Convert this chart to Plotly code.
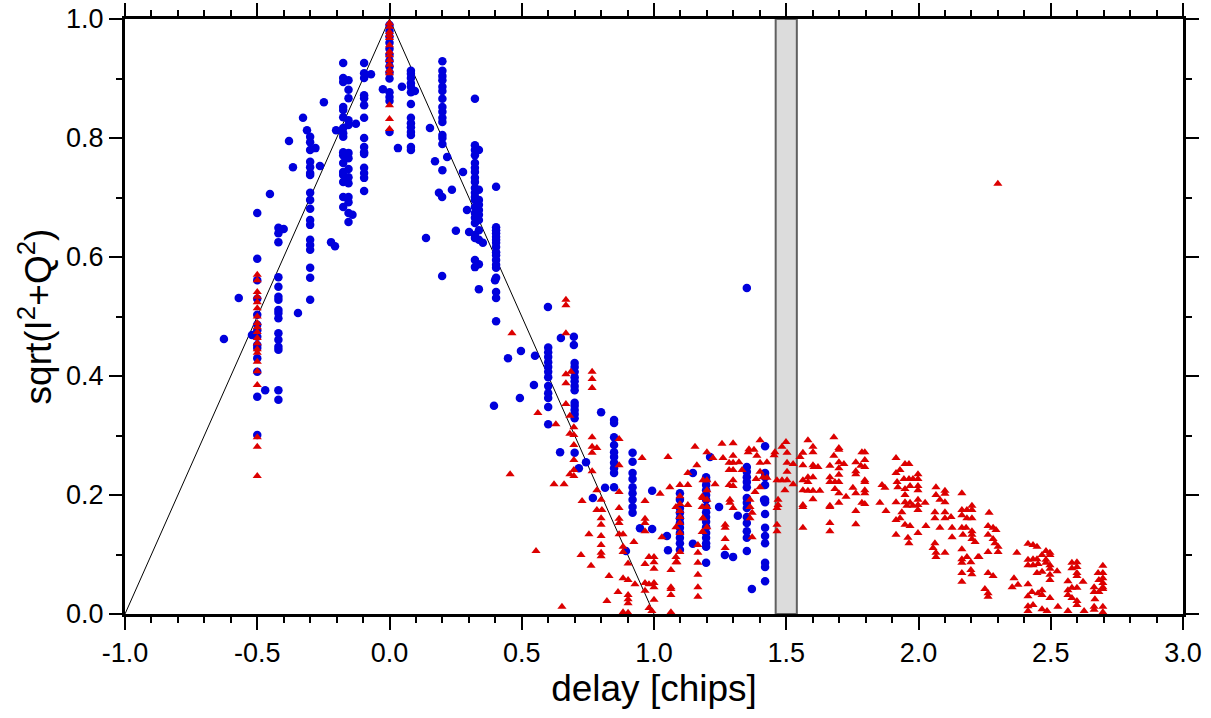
import plotly.graph_objects as go

# ---------------- data (delay [chips], sqrt(I^2+Q^2)) ----------------
# blue circles: columns of points at a common delay
blue_columns = {
    -0.50: [0.674, 0.597, 0.561, 0.530, 0.503, 0.486, 0.477, 0.466, 0.452, 0.447, 0.430, 0.407, 0.365, 0.301],
    -0.42: [0.649, 0.640, 0.625, 0.566, 0.550, 0.533, 0.528, 0.511, 0.506, 0.497, 0.472, 0.461, 0.449, 0.444, 0.376, 0.360],
    -0.30: [0.802, 0.793, 0.780, 0.760, 0.751, 0.741, 0.738, 0.708, 0.696, 0.681, 0.662, 0.654, 0.629, 0.620, 0.612, 0.582, 0.565, 0.528],
    -0.175: [0.926, 0.901, 0.894, 0.852, 0.847, 0.835, 0.817, 0.808, 0.802, 0.776, 0.771, 0.758, 0.743, 0.738, 0.726, 0.701, 0.684],
    -0.155: [0.897, 0.881, 0.867, 0.830, 0.822, 0.775, 0.766, 0.748, 0.734, 0.724, 0.701, 0.692, 0.674, 0.659],
    -0.096: [0.926, 0.909, 0.901, 0.872, 0.867, 0.855, 0.834, 0.800, 0.785, 0.776, 0.773, 0.750, 0.741, 0.733, 0.711],
    0.00: [0.990, 0.980, 0.970, 0.960, 0.950, 0.940, 0.930, 0.920, 0.910, 0.900, 0.877, 0.869, 0.862, 0.810],
    0.081: [0.913, 0.908, 0.901, 0.892, 0.886, 0.877, 0.857, 0.834, 0.825, 0.818, 0.810, 0.805, 0.785, 0.780],
    0.20: [0.929, 0.913, 0.904, 0.897, 0.886, 0.879, 0.866, 0.852, 0.844, 0.834, 0.827, 0.805, 0.800, 0.790, 0.746],
    0.323: [0.788, 0.780, 0.771, 0.758, 0.750, 0.743, 0.733, 0.726, 0.716, 0.708, 0.701, 0.696, 0.684, 0.674, 0.666, 0.657, 0.637, 0.632, 0.595, 0.583],
    0.338: [0.780, 0.713, 0.696, 0.688, 0.679, 0.671, 0.662, 0.645, 0.629, 0.588, 0.546],
    0.403: [0.718, 0.650, 0.645, 0.640, 0.634, 0.629, 0.624, 0.617, 0.608, 0.603, 0.595, 0.587, 0.582, 0.565, 0.541, 0.531, 0.492],
    0.60: [0.448, 0.440, 0.432, 0.423, 0.415, 0.407, 0.398, 0.383, 0.371, 0.363, 0.348, 0.319],
    0.70: [0.422, 0.415, 0.407, 0.398, 0.391, 0.383, 0.376, 0.355, 0.350, 0.343, 0.336, 0.329, 0.271],
    0.849: [0.326, 0.321, 0.297, 0.284, 0.272, 0.264, 0.254, 0.245, 0.237, 0.213],
    0.919: [0.271, 0.256, 0.237, 0.227, 0.213, 0.203, 0.192, 0.180, 0.170],
    1.098: [0.203, 0.192, 0.178, 0.170, 0.161, 0.153, 0.145, 0.136, 0.128, 0.119, 0.108],
    1.197: [0.230, 0.225, 0.217, 0.208, 0.200, 0.192, 0.180, 0.171, 0.163, 0.155, 0.146, 0.136, 0.128, 0.119, 0.113, 0.086],
    1.351: [0.548, 0.247, 0.239, 0.230, 0.222, 0.213, 0.195, 0.187, 0.178, 0.163, 0.153, 0.139, 0.128, 0.106],
    1.42: [0.282, 0.237, 0.230, 0.217, 0.192, 0.188, 0.168, 0.145, 0.131, 0.119, 0.086, 0.079, 0.055],
}
blue_scatter = [
    (-0.626, 0.462), (-0.57, 0.531), (-0.52, 0.469), (-0.47, 0.376), (-0.40, 0.647),
    (-0.452, 0.706), (-0.38, 0.795), (-0.365, 0.751), (-0.346, 0.506), (-0.327, 0.834),
    (-0.312, 0.813), (-0.248, 0.860), (-0.263, 0.753), (-0.221, 0.625), (-0.206, 0.618),
    (-0.202, 0.813), (-0.127, 0.824), (-0.28, 0.783), (-0.14, 0.671), (-0.07, 0.907),
    (-0.025, 0.882), (0.032, 0.783), (0.047, 0.886), (0.096, 0.879),
    (0.138, 0.632), (0.153, 0.817), (0.172, 0.761), (0.187, 0.708), (0.199, 0.701),
    (0.218, 0.768), (0.236, 0.713), (0.278, 0.743), (0.293, 0.679), (0.301, 0.642),
    (0.251, 0.644), (0.199, 0.568), (0.323, 0.866), (0.353, 0.624), (0.399, 0.561),
    (0.599, 0.516), (0.648, 0.464), (0.697, 0.466), (0.697, 0.452), (0.497, 0.442),
    (0.448, 0.430), (0.55, 0.434), (0.546, 0.385), (0.493, 0.363), (0.395, 0.350),
    (0.645, 0.272), (0.716, 0.245), (0.743, 0.255), (0.80, 0.339), (0.815, 0.212),
    (0.769, 0.195), (0.947, 0.144), (0.993, 0.143), (0.993, 0.207), (1.049, 0.131),
    (1.053, 0.107), (0.894, 0.106), (1.147, 0.237), (1.147, 0.118), (1.212, 0.264),
    (1.246, 0.180), (1.268, 0.099), (1.299, 0.096), (1.317, 0.165), (1.37, 0.042),
    (1.416, 0.192),
]

# red triangles
red_columns = {
    -0.50: [0.570, 0.561, 0.541, 0.533, 0.524, 0.514, 0.500, 0.489, 0.482, 0.474, 0.464, 0.455, 0.445,
            0.439, 0.424, 0.408, 0.385, 0.297, 0.281, 0.232],
    0.00: [0.993, 0.987, 0.978, 0.973, 0.968, 0.956, 0.945, 0.939, 0.931, 0.923, 0.914, 0.909,
           0.855, 0.832, 0.815],
}
red_mid = [
    (0.667, 0.528), (0.667, 0.519), (0.463, 0.472), (0.667, 0.472), (0.456, 0.235), (0.554, 0.106),
    (0.652, 0.012), (0.561, 0.338), (0.629, 0.319), (0.667, 0.403), (0.667, 0.388), (0.667, 0.353),
    (0.686, 0.407), (0.682, 0.333), (0.697, 0.314), (0.697, 0.301), (0.682, 0.303), (0.697, 0.284),
    (0.697, 0.259), (0.697, 0.242), (0.682, 0.235), (0.697, 0.232), (0.622, 0.218), (0.660, 0.218),
    (0.766, 0.407), (0.766, 0.395), (0.766, 0.380), (0.766, 0.297), (0.766, 0.281), (0.784, 0.279),
    (0.766, 0.271), (0.766, 0.240), (0.784, 0.208), (0.800, 0.192), (0.728, 0.190), (0.784, 0.175),
    (0.803, 0.175), (0.800, 0.161), (0.800, 0.150), (0.754, 0.134), (0.800, 0.131), (0.800, 0.116),
    (0.800, 0.103), (0.800, 0.097), (0.724, 0.099), (0.762, 0.081), (0.830, 0.064), (0.822, 0.022),
    (0.864, 0.037), (0.868, 0.294), (0.868, 0.250), (0.868, 0.205), (0.868, 0.178), (0.868, 0.160),
    (0.868, 0.153), (0.883, 0.134), (0.868, 0.134), (0.883, 0.113), (0.883, 0.104), (0.902, 0.085),
    (0.883, 0.060), (0.902, 0.057), (0.902, 0.032), (0.902, 0.025), (0.902, 0.018), (0.883, 0.003),
    (0.902, 0.002), (0.924, 0.121), (0.928, 0.050), (0.955, 0.262), (0.966, 0.190), (0.966, 0.160),
    (0.966, 0.153), (0.966, 0.139), (0.966, 0.084), (0.966, 0.052), (0.966, 0.039), (0.981, 0.096),
    (0.981, 0.050), (1.000, 0.096), (1.000, 0.087), (1.000, 0.076), (1.000, 0.052), (1.000, 0.045),
    (1.000, 0.024), (0.981, 0.010), (0.992, 0.005), (1.023, 0.202), (1.030, 0.129), (1.053, 0.264),
    (1.060, 0.213), (1.083, 0.180), (1.083, 0.146), (1.083, 0.096), (1.083, 0.087), (1.064, 0.074),
    (1.064, 0.045), (1.064, 0.042), (1.064, 0.032), (1.064, 0.003), (1.098, 0.217), (1.098, 0.198),
    (1.098, 0.185), (1.098, 0.173), (1.098, 0.163), (1.098, 0.153), (1.098, 0.136), (1.098, 0.104),
    (1.087, 0.087), (1.128, 0.217), (1.128, 0.183), (1.155, 0.281), (1.162, 0.250), (1.128, 0.237),
    (1.185, 0.225), (1.182, 0.197), (1.182, 0.180), (1.185, 0.161), (1.182, 0.138), (1.166, 0.116),
    (1.166, 0.103), (1.166, 0.086), (1.166, 0.066), (1.166, 0.045), (1.166, 0.029),
]
red_hump = [
    (1.200, 0.272), (1.223, 0.262), (1.257, 0.286), (1.261, 0.262), (1.299, 0.287), (1.299, 0.266),
    (1.284, 0.254), (1.299, 0.254), (1.321, 0.255), (1.284, 0.242), (1.299, 0.242), (1.333, 0.242),
    (1.299, 0.225), (1.284, 0.217), (1.299, 0.215), (1.231, 0.218), (1.200, 0.225), (1.200, 0.208),
    (1.185, 0.195), (1.200, 0.192), (1.200, 0.180), (1.185, 0.161), (1.200, 0.146), (1.185, 0.138),
    (1.269, 0.150), (1.269, 0.145), (1.269, 0.126), (1.269, 0.111), (1.287, 0.192), (1.287, 0.187),
    (1.299, 0.178), (1.359, 0.277), (1.356, 0.272), (1.378, 0.276), (1.401, 0.292), (1.389, 0.266),
    (1.401, 0.254), (1.401, 0.239), (1.412, 0.230), (1.386, 0.227), (1.401, 0.213), (1.382, 0.205),
    (1.363, 0.192), (1.363, 0.180), (1.371, 0.170), (1.363, 0.161), (1.371, 0.129), (1.427, 0.255),
    (1.427, 0.229), (1.457, 0.272), (1.454, 0.267), (1.484, 0.281), (1.499, 0.289), (1.503, 0.271),
    (1.503, 0.254), (1.503, 0.239), (1.484, 0.225), (1.503, 0.225), (1.465, 0.225), (1.495, 0.208),
    (1.469, 0.192), (1.469, 0.183), (1.465, 0.178), (1.465, 0.150), (1.465, 0.139), (1.526, 0.252),
    (1.526, 0.218),
    (1.552, 0.264), (1.563, 0.271), (1.582, 0.292), (1.601, 0.281), (1.601, 0.272), (1.563, 0.250),
    (1.601, 0.250), (1.605, 0.247), (1.620, 0.247), (1.582, 0.230), (1.563, 0.225), (1.601, 0.230),
    (1.582, 0.222), (1.563, 0.208), (1.582, 0.207), (1.601, 0.207), (1.627, 0.207), (1.601, 0.193),
    (1.563, 0.183), (1.563, 0.180), (1.563, 0.145), (1.680, 0.297), (1.699, 0.279), (1.699, 0.276),
    (1.680, 0.266), (1.665, 0.249), (1.699, 0.255), (1.699, 0.245), (1.718, 0.252), (1.699, 0.234),
    (1.665, 0.230), (1.684, 0.222), (1.665, 0.222), (1.699, 0.222), (1.684, 0.210), (1.699, 0.203),
    (1.726, 0.197), (1.665, 0.182), (1.665, 0.180), (1.699, 0.187), (1.665, 0.153), (1.665, 0.139),
    (1.752, 0.212), (1.763, 0.203), (1.763, 0.255), (1.763, 0.240), (1.763, 0.235), (1.786, 0.272),
    (1.797, 0.272), (1.782, 0.249), (1.797, 0.259), (1.797, 0.247), (1.797, 0.225), (1.797, 0.222),
    (1.797, 0.208), (1.797, 0.203), (1.786, 0.187), (1.797, 0.185), (1.763, 0.173), (1.763, 0.151),
]
red_tail = [
    (1.854, 0.187), (1.862, 0.217), (1.873, 0.212), (1.877, 0.173), (1.915, 0.262), (1.915, 0.237),
    (1.930, 0.242), (1.919, 0.222), (1.922, 0.213), (1.915, 0.188), (1.915, 0.158), (1.915, 0.133),
    (1.930, 0.161), (1.937, 0.171), (1.949, 0.252), (1.964, 0.252), (1.945, 0.227), (1.964, 0.227),
    (1.979, 0.227), (1.998, 0.235), (1.998, 0.227), (1.949, 0.210), (1.968, 0.215), (1.998, 0.215),
    (1.998, 0.208), (1.949, 0.200), (1.949, 0.188), (1.968, 0.187), (1.956, 0.182), (1.979, 0.182),
    (1.998, 0.192), (1.998, 0.183), (1.998, 0.175), (1.949, 0.150), (1.968, 0.148), (1.960, 0.128),
    (1.964, 0.119), (1.998, 0.136), (2.025, 0.187), (2.028, 0.148), (2.066, 0.213), (2.066, 0.200),
    (2.081, 0.192), (2.100, 0.207), (2.100, 0.202), (2.100, 0.188), (2.100, 0.171), (2.100, 0.161),
    (2.062, 0.171), (2.062, 0.161), (2.081, 0.145), (2.055, 0.111), (2.062, 0.119), (2.066, 0.103),
    (2.066, 0.096), (2.100, 0.103), (2.123, 0.163), (2.127, 0.145), (2.127, 0.129),
    (2.164, 0.203), (2.164, 0.175), (2.164, 0.166), (2.183, 0.175), (2.202, 0.182), (2.202, 0.175),
    (2.183, 0.161), (2.202, 0.161), (2.180, 0.145), (2.164, 0.145), (2.168, 0.133), (2.202, 0.139),
    (2.202, 0.133), (2.202, 0.126), (2.214, 0.121), (2.225, 0.096), (2.164, 0.109), (2.183, 0.096),
    (2.164, 0.092), (2.164, 0.086), (2.198, 0.087), (2.164, 0.069), (2.198, 0.074), (2.202, 0.067),
    (2.164, 0.054), (2.229, 0.096), (2.267, 0.170), (2.263, 0.148), (2.282, 0.145), (2.293, 0.141),
    (2.263, 0.133), (2.282, 0.126), (2.289, 0.119), (2.301, 0.113), (2.263, 0.104), (2.301, 0.104),
    (2.263, 0.069), (2.282, 0.064), (2.251, 0.042), (2.263, 0.035), (2.263, 0.029), (2.30, 0.723),
    (2.372, 0.103), (2.361, 0.060), (2.376, 0.049), (2.354, 0.045), (2.414, 0.118), (2.433, 0.116),
    (2.448, 0.113), (2.414, 0.091), (2.433, 0.092), (2.448, 0.092), (2.414, 0.082), (2.433, 0.082),
    (2.452, 0.084), (2.467, 0.099), (2.482, 0.106), (2.497, 0.103), (2.497, 0.099), (2.482, 0.091),
    (2.482, 0.086), (2.467, 0.071), (2.448, 0.069), (2.497, 0.082), (2.497, 0.076), (2.497, 0.066),
    (2.497, 0.057), (2.524, 0.072), (2.414, 0.050), (2.414, 0.030), (2.429, 0.037), (2.452, 0.035),
    (2.467, 0.040), (2.467, 0.032), (2.497, 0.027), (2.414, 0.013), (2.433, 0.015), (2.414, 0.005),
    (2.467, 0.008), (2.486, 0.005), (2.527, 0.012), (2.565, 0.055), (2.580, 0.086), (2.599, 0.087),
    (2.580, 0.077), (2.599, 0.079), (2.599, 0.069), (2.599, 0.064), (2.622, 0.054), (2.565, 0.040),
    (2.580, 0.044), (2.599, 0.044), (2.565, 0.032), (2.580, 0.027), (2.599, 0.022), (2.599, 0.015),
    (2.565, 0.005), (2.626, 0.005), (2.664, 0.045), (2.664, 0.037), (2.667, 0.025), (2.664, 0.012),
    (2.664, 0.007), (2.679, 0.069), (2.682, 0.057), (2.682, 0.037), (2.697, 0.081), (2.697, 0.069),
    (2.697, 0.060), (2.697, 0.052), (2.697, 0.045), (2.697, 0.042), (2.697, 0.012), (2.697, 0.003),
]

# ideal correlation triangle and the shaded delay band
ideal_delay = [-1.0, 0.0, 1.0]
ideal_amp = [0.0, 1.0, 0.0]
band_delay = (1.46, 1.54)

x_range = [-1.0, 3.0]
y_range = [0.0, 1.0]
x_tickvals = [-1.0, -0.5, 0.0, 0.5, 1.0, 1.5, 2.0, 2.5, 3.0]
x_ticktext = ["-1.0", "-0.5", "0.0", "0.5", "1.0", "1.5", "2.0", "2.5", "3.0"]
y_tickvals = [0.0, 0.2, 0.4, 0.6, 0.8, 1.0]
y_ticktext = ["0.0", "0.2", "0.4", "0.6", "0.8", "1.0"]


def unpack(columns, scatter):
    xs, ys = [], []
    for cx, vals in columns.items():
        for v in vals:
            xs.append(cx)
            ys.append(v)
    for px, py in scatter:
        xs.append(px)
        ys.append(py)
    return xs, ys


bx, by = unpack(blue_columns, blue_scatter)
rx, ry = unpack(red_columns, red_mid + red_hump + red_tail)

fig = go.Figure()
fig.add_trace(go.Scatter(x=ideal_delay, y=ideal_amp, mode="lines",
                         line=dict(color="black", width=1), showlegend=False, hoverinfo="skip"))
fig.add_trace(go.Scatter(x=bx, y=by, mode="markers",
                         marker=dict(symbol="circle", size=8.5, color="#0000dc", line=dict(width=0)),
                         showlegend=False))
fig.add_trace(go.Scatter(x=rx, y=ry, mode="markers",
                         marker=dict(symbol="triangle-up", size=8, color="#dc0000", line=dict(width=0)),
                         showlegend=False))
# dummy trace for mirrored top/right axes
fig.add_trace(go.Scatter(x=[None], y=[None], xaxis="x2", yaxis="y2", showlegend=False))

fig.add_shape(type="rect", xref="x", yref="y", x0=band_delay[0], x1=band_delay[1], y0=0, y1=1,
              fillcolor="#dcdcdc", line=dict(color="#606060", width=2), layer="below")

FONT = "Liberation Sans, Arial, sans-serif"
tickfont = dict(family=FONT, size=27, color="black")
common_x = dict(range=x_range, tickmode="array", tickvals=x_tickvals, ticktext=x_ticktext,
                ticks="outside", ticklen=13, tickwidth=1.5, tickcolor="black",
                minor=dict(dtick=0.1, tick0=-1.0, ticks="outside", ticklen=6, tickwidth=1.5, tickcolor="black", showgrid=False),
                showline=True, linewidth=3, linecolor="black", showgrid=False, zeroline=False,
                fixedrange=True, automargin=False)
common_y = dict(range=y_range, tickmode="array", tickvals=y_tickvals, ticktext=y_ticktext,
                ticks="outside", ticklen=13, tickwidth=1.5, tickcolor="black",
                minor=dict(dtick=0.1, tick0=0.0, ticks="outside", ticklen=6, tickwidth=1.5, tickcolor="black", showgrid=False),
                showline=True, linewidth=3, linecolor="black", showgrid=False, zeroline=False,
                fixedrange=True, automargin=False)

fig.update_layout(
    width=1211, height=718,
    margin=dict(l=125, r=28, t=19, b=104, autoexpand=False),
    paper_bgcolor="white", plot_bgcolor="white",
    font=dict(family=FONT, color="black"),
    xaxis=dict(**common_x, tickfont=tickfont, side="bottom",
               title=dict(text="delay [chips]", font=dict(family=FONT, size=37, color="black"), standoff=7)),
    yaxis=dict(**common_y, tickfont=tickfont, side="left",
               title=dict(text="sqrt(I<sup>2</sup>+Q<sup>2</sup>)", font=dict(family=FONT, size=37, color="black"), standoff=4)),
    xaxis2=dict(**common_x, overlaying="x", side="top", anchor="y2", showticklabels=False),
    yaxis2=dict(**common_y, overlaying="y", side="right", anchor="x2", showticklabels=False),
)

fig.write_html("out.html")
